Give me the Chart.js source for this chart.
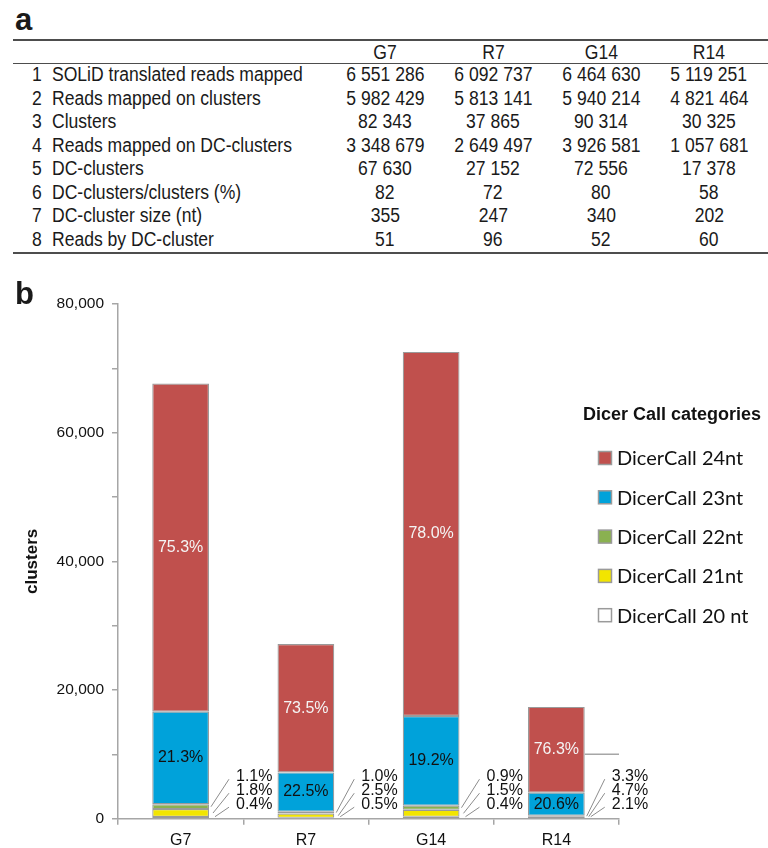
<!DOCTYPE html>
<html>
<head>
<meta charset="utf-8">
<script src="https://cdn.jsdelivr.net/npm/chart.js@4.4.1/dist/chart.umd.min.js"></script>
<style>
  body { margin: 0; background: #fff; font-family: "Liberation Sans", Arial, sans-serif; color: #1a1a1a; }
  #page { position: relative; width: 768px; height: 848px; overflow: hidden; }
  .panel { position: absolute; left: 15px; font-weight: bold; font-size: 31px; line-height: 30px; z-index: 2; }
  .rule { position: absolute; left: 13px; right: 0; background: #4d4d4d; }
  #stats { position: absolute; left: 13px; top: 41px; border-collapse: collapse; font-size: 19.5px; }
  #stats td { padding: 0; white-space: nowrap; overflow: visible; }
  #stats td span { display: inline-block; transform: scaleX(0.9); }
  #stats tr.head td { height: 22px; line-height: 22px; }
  #stats tr.body td { height: 23.5px; line-height: 23.5px; }
  #stats td.num { width: 29px; text-align: right; padding-right: 4px; }
  #stats td.num span { transform-origin: right center; }
  #stats td.lab { width: 279px; padding-left: 6px; }
  #stats td.lab span { transform-origin: left center; }
  #stats td.val { width: 108px; text-align: center; }
  #stats td.val span { transform-origin: center center; }
  #chartWrap { position: absolute; left: 0; top: 270px; width: 768px; height: 578px; }
</style>
</head>
<body>
<div id="page">
  <div class="panel" style="top:5px">a</div>
  <div class="rule" style="top:39px;height:2px"></div>
  <div class="rule" style="top:62.5px;height:1.5px"></div>
  <div class="rule" style="top:251.5px;height:2px"></div>
  <table id="stats"></table>
  <div id="chartWrap"><canvas id="mainChart" width="768" height="578"></canvas></div>
  <div class="panel" style="top:279px">b</div>
</div>
<script>
// table (a)
const samples = ['G7', 'R7', 'G14', 'R14'];
const statLabels = [
    'SOLiD translated reads mapped',
    'Reads mapped on clusters',
    'Clusters',
    'Reads mapped on DC-clusters',
    'DC-clusters',
    'DC-clusters/clusters (%)',
    'DC-cluster size (nt)',
    'Reads by DC-cluster'
];
const statG7 = ['6 551 286', '5 982 429', '82 343', '3 348 679', '67 630', '82', '355', '51'];
const statR7 = ['6 092 737', '5 813 141', '37 865', '2 649 497', '27 152', '72', '247', '96'];
const statG14 = ['6 464 630', '5 940 214', '90 314', '3 926 581', '72 556', '80', '340', '52'];
const statR14 = ['5 119 251', '4 821 464', '30 325', '1 057 681', '17 378', '58', '202', '60'];

// chart (b): clusters per Dicer Call category, bottom to top
const dc20 = [270, 136, 290, 88];
const dc21 = [1220, 679, 1088, 230];
const dc22 = [745, 272, 653, 150];
const dc23 = [14405, 6109, 13931, 3580];
const dc24 = [50990, 19956, 56594, 13330];

const pct20 = ['0.4%', '0.5%', '0.4%', '2.1%'];
const pct21 = ['1.8%', '2.5%', '1.5%', '4.7%'];
const pct22 = ['1.1%', '1.0%', '0.9%', '3.3%'];
const pct23 = ['21.3%', '22.5%', '19.2%', '20.6%'];
const pct24 = ['75.3%', '73.5%', '78.0%', '76.3%'];

const yTicks = [0, 20000, 40000, 60000, 80000];

function buildTable() {
    const table = document.getElementById('stats');
    let html = '<tr class="head"><td class="num"></td><td class="lab"></td>';
    samples.forEach(s => { html += `<td class="val"><span>${s}</span></td>`; });
    html += '</tr>';
    statLabels.forEach((lab, i) => {
        html += `<tr class="body"><td class="num"><span>${i + 1}</span></td><td class="lab"><span>${lab}</span></td>`;
        [statG7, statR7, statG14, statR14].forEach(col => { html += `<td class="val"><span>${col[i]}</span></td>`; });
        html += '</tr>';
    });
    table.innerHTML = html;
}

const FONT = '"Liberation Sans", Arial, sans-serif';
const GREY = '#a6a6a6';

const annotations = {
    id: 'annotations',
    afterDatasetsDraw(chart) {
        const { ctx, scales: { y }, chartArea } = chart;
        ctx.save();
        ctx.font = `16px ${FONT}`;
        ctx.textBaseline = 'middle';

        // labels inside the big segments
        ctx.textAlign = 'center';
        [[3, pct23, '#111'], [4, pct24, '#f4f4f4']].forEach(([di, arr, col]) => {
            chart.getDatasetMeta(di).data.forEach((bar, i) => {
                ctx.fillStyle = col;
                ctx.fillText(arr[i], bar.x, (bar.y + bar.base) / 2);
            });
        });

        // small segment labels with leader lines
        const base = y.getPixelForValue(0);
        chart.getDatasetMeta(0).data.forEach((bar, i) => {
            const right = bar.x + bar.width / 2;
            const lx = right + 27;
            [[2, pct22], [1, pct21], [0, pct20]].forEach(([di, arr], k) => {
                const ly = base - 42.5 + k * 14;
                const seg = chart.getDatasetMeta(di).data[i];
                const sy = Math.min((seg.y + seg.base) / 2, base - 2);
                ctx.strokeStyle = '#8c8c8c';
                ctx.lineWidth = 1;
                ctx.beginPath();
                ctx.moveTo(right + 2 + k * 2, sy);
                ctx.lineTo(lx - 7, ly + 3);
                ctx.stroke();
                ctx.textAlign = 'left';
                ctx.fillStyle = '#111';
                ctx.fillText(arr[i], lx, ly);
            });
        });

        // short stray line at 10,000 right of the last bar
        const last = chart.getDatasetMeta(4).data[samples.length - 1];
        const ys = y.getPixelForValue(10000);
        ctx.strokeStyle = GREY;
        ctx.lineWidth = 1.5;
        ctx.beginPath();
        ctx.moveTo(last.x + last.width / 2, ys);
        ctx.lineTo(chartArea.right, ys);
        ctx.stroke();

        // legend
        ctx.fillStyle = '#111';
        ctx.textAlign = 'left';
        ctx.font = `bold 18px ${FONT}`;
        ctx.fillText('Dicer Call categories', 583, 145);
        ctx.font = '20px Lato, "Open Sans", sans-serif';
        const sets = chart.data.datasets.slice().reverse();
        sets.forEach((ds, k) => {
            const cy = 188 + k * 39.3;
            ctx.fillStyle = ds.backgroundColor;
            ctx.fillRect(598.5, cy - 6.5, 13, 13);
            ctx.strokeStyle = '#9a9a9a';
            ctx.lineWidth = 1.5;
            ctx.strokeRect(598.5, cy - 6.5, 13, 13);
            ctx.fillStyle = '#111';
            ctx.fillText(ds.label, 617, cy + 1);
        });
        ctx.restore();
    }
};

function renderChart() {
    const ctx = document.getElementById('mainChart').getContext('2d');
    const common = { borderColor: '#9a9a9a', borderWidth: 1.2, borderSkipped: false, barPercentage: 0.453, categoryPercentage: 1.0 };

    new Chart(ctx, {
        type: 'bar',
        data: {
            labels: samples,
            datasets: [
                { label: 'DicerCall 20 nt', data: dc20, backgroundColor: '#ffffff', ...common },
                { label: 'DicerCall 21nt', data: dc21, backgroundColor: '#f2e500', ...common },
                { label: 'DicerCall 22nt', data: dc22, backgroundColor: '#8ab150', ...common },
                { label: 'DicerCall 23nt', data: dc23, backgroundColor: '#00a2da', ...common },
                { label: 'DicerCall 24nt', data: dc24, backgroundColor: '#c0504d', ...common }
            ]
        },
        options: {
            responsive: false,
            animation: false,
            layout: { padding: { top: 34, right: 149, bottom: 0, left: 0 } },
            plugins: {
                legend: { display: false },
                tooltip: { enabled: false }
            },
            scales: {
                x: {
                    stacked: true,
                    grid: { offset: true, drawOnChartArea: false, tickLength: 6, color: GREY, lineWidth: 1.5 },
                    border: { color: GREY, width: 1.5 },
                    ticks: { color: '#111', padding: 6, font: { family: FONT, size: 16 } },
                    afterFit: s => { s.height = 29.3; }
                },
                y: {
                    stacked: true,
                    min: 0,
                    max: 80000,
                    ticks: {
                        stepSize: 10000,
                        padding: 8,
                        color: '#111',
                        font: { family: FONT, size: 15.5 },
                        callback: v => yTicks.includes(v) ? v.toLocaleString('en-US') : ''
                    },
                    grid: { drawOnChartArea: false, tickLength: 6, color: GREY, lineWidth: 1.5 },
                    border: { color: GREY, width: 1.5 },
                    title: {
                        display: true,
                        text: 'clusters',
                        color: '#111',
                        padding: { top: 22, bottom: 0 },
                        font: { family: FONT, size: 17, weight: 'bold' }
                    },
                    afterFit: s => { s.width = 118; }
                }
            }
        },
        plugins: [annotations]
    });
}

buildTable();
renderChart();
</script>
</body>
</html>
